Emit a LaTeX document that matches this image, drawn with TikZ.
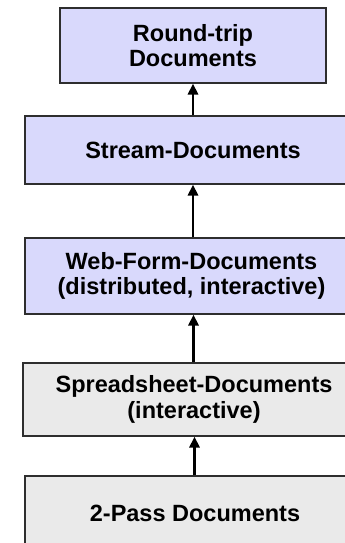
\documentclass[tikz,border=0pt]{standalone}
\usepackage{fontspec}
\setmainfont{Liberation Sans}
\usetikzlibrary{arrows.meta}
\definecolor{lav}{HTML}{D9D9FC}
\definecolor{lgray}{HTML}{EAEAEA}
\definecolor{edge}{HTML}{2E2E2E}
\tikzset{
  doc/.style={draw=edge, line width=1.1pt, rectangle, inner sep=0pt,
    align=center, font=\fontsize{23.5}{25.5}\selectfont\bfseries},
  newdoc/.style={doc, fill=lav},
  olddoc/.style={doc, fill=lgray},
  arr/.style={line width=2.8pt, -{Triangle[width=10pt,length=11pt]}}
}
\begin{document}
\begin{tikzpicture}[x=1pt,y=-1pt]
\useasboundingbox (0,0) rectangle (345,543);
\begin{scope}
\clip (0,0) rectangle (345,543);
\node[newdoc, minimum width=266pt, minimum height=75pt] (rt) at (193,45.5) {Round-trip\\Documents};
\node[newdoc, minimum width=336pt, minimum height=68pt] (st) at (193,150) {Stream-Documents};
\node[newdoc, minimum width=333pt, minimum height=76pt] (wf) at (191.5,276) {Web-Form-Documents\\(distributed, interactive)};
\node[olddoc, minimum width=342pt, minimum height=73pt] (sp) at (194,399.5) {Spreadsheet-Documents\\(interactive)};
\node[olddoc, minimum width=340pt, minimum height=74pt] (tp) at (195,513) {2-Pass Documents};
\end{scope}
% arrow positions along the column
\coordinate (xa) at (193,0);
\coordinate (xb) at (193,0);
\coordinate (xc) at (193.5,0);
\coordinate (xd) at (194.5,0);
\draw[arr] (st.north -| xa) -- (rt.south -| xa);
\draw[arr] (wf.north -| xb) -- (st.south -| xb);
\draw[arr] (sp.north -| xc) -- (wf.south -| xc);
\draw[arr] (tp.north -| xd) -- (sp.south -| xd);
\end{tikzpicture}
\end{document}
